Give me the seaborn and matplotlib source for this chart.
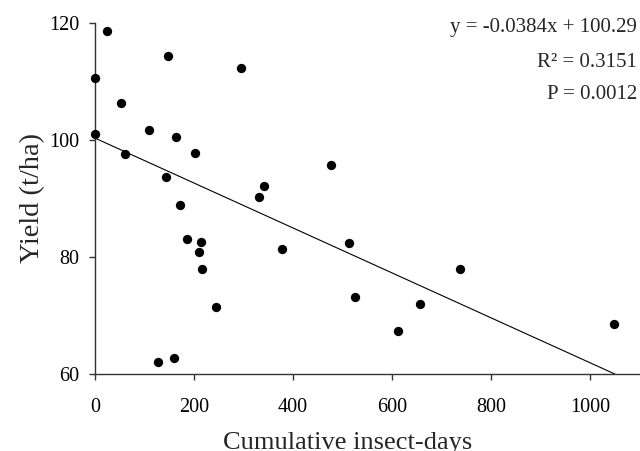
import numpy as np
import pandas as pd
import matplotlib
matplotlib.use("Agg")
import matplotlib.pyplot as plt
import seaborn as sns

# cumulative insect-days and yield
insect_days = [25, 0, 52, 0, 147, 295, 109, 163, 60, 201, 144, 342, 331,
               171, 185, 213, 209, 217, 377, 244, 128, 160,
               477, 512, 524, 656, 612, 737, 1048]
yield_tha = [118.6, 110.6, 106.2, 101.0, 114.3, 112.2, 101.7, 100.5, 97.5, 97.8, 93.6, 92.1, 90.2,
             88.8, 83.0, 82.6, 80.8, 78.0, 81.4, 71.4, 62.0, 62.7,
             95.7, 82.3, 73.2, 72.0, 67.3, 78.0, 68.5]

slope = -0.0384
intercept = 100.29
r2 = 0.3151
p_value = 0.0012

df = pd.DataFrame({"days": insect_days, "yield": yield_tha})

sns.set_style("ticks")
plt.rcParams['font.family'] = ['Liberation Serif', 'DejaVu Serif']

fig = plt.figure(figsize=(6.4, 4.51), dpi=100)
ax = fig.add_axes([0.1484, 0.1707, 0.8516, 0.779])

sns.scatterplot(data=df, x="days", y="yield", color="black", s=45,
                edgecolor="black", linewidth=0, ax=ax, clip_on=False, zorder=3)

# fitted line, drawn until it meets the bottom of the axis
x_end = (intercept - 60) / -slope
fit_x = np.array([0, x_end])
ax.plot(fit_x, slope * fit_x + intercept, color="black", lw=0.8)

ax.set_xlim(0, 1100)
ax.set_ylim(60, 120)
ax.set_xticks([0, 200, 400, 600, 800, 1000])
ax.set_yticks([60, 80, 100, 120])

for side in ["top", "right"]:
    ax.spines[side].set_visible(False)
for side in ["left", "bottom"]:
    ax.spines[side].set_color("#333333")
    ax.spines[side].set_linewidth(1.0)

ax.tick_params(axis="both", direction="out", length=4, width=1.0,
               color="#333333", labelsize=14.5, labelcolor="black")
ax.tick_params(axis="x", pad=13)
ax.tick_params(axis="y", pad=7)

ax.set_xlabel("Cumulative insect-days", fontsize=19, labelpad=11)
ax.xaxis.label.set_x(0.464)
ax.set_ylabel("Yield (t/ha)", fontsize=20.5, labelpad=3)

ax.text(0.995, 0.985, f"y = {slope}x + {intercept}", transform=ax.transAxes,
        ha="right", va="center", fontsize=15)
ax.text(0.995, 0.888, f"R\u00b2 = {r2}", transform=ax.transAxes,
        ha="right", va="center", fontsize=15)
ax.text(0.995, 0.797, f"P = {p_value}", transform=ax.transAxes,
        ha="right", va="center", fontsize=15)

fig.savefig("out.png", dpi=100)
